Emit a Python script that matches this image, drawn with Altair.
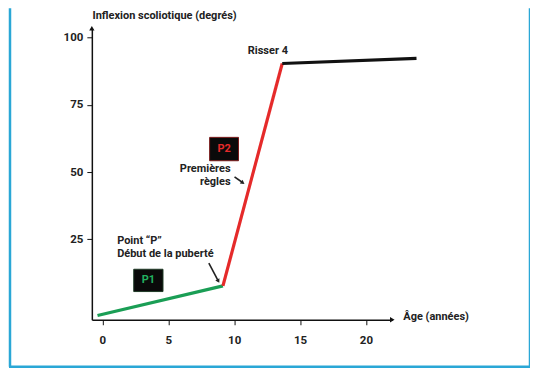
import altair as alt
import pandas as pd

# ---- data ----
seg_names = ["P1", "P1", "P2", "P2", "Fin", "Fin"]
ages = [-0.37, 9.15, 9.15, 13.65, 13.65, 23.84]
inflexions = [-3.4, 7.6, 7.6, 90.4, 90.4, 92.3]
seg_colors = ["#1a9e55", "#e52a2a", "#111111"]

x_ticks = [0, 5, 10, 15, 20]
y_ticks = [25, 50, 75, 100]

# annotation texts (data coordinates)
txt_labels = ["Risser 4", "Premières", "règles", "Point \u201cP\u201d", "Début de la puberté"]
txt_x = [12.56, 9.73, 9.73, 1.12, 1.12]
txt_y = [94.9, 51.1, 46.3, 24.45, 19.5]
txt_align = ["center", "right", "right", "left", "left"]

box_labels = ["P1", "P2"]
box_x1 = [2.38, 8.14]
box_x2 = [4.6, 10.33]
box_y1 = [5.5, 54.2]
box_y2 = [13.8, 62.9]
box_cx = [3.49, 9.24]
box_cy = [9.65, 58.55]
box_text_colors = ["#22b060", "#e52a2a"]
box_edge_colors = ["#1f3a26", "#7a1a1a"]

arr_x1 = [8.08, 10.03]
arr_y1 = [16.05, 48.2]
arr_x2 = [8.80, 10.66]
arr_y2 = [9.4, 46.0]
arr_angle = [61.5, 36.3]

x_title = "Âge (années)"
y_title = "Inflexion scoliotique (degrés)"

X_DOM = [-0.8, 22]
Y_DOM = [-5, 103.5]
FONT = "Roboto"
FS = 11

line_df = pd.DataFrame({"seg": seg_names, "age": ages, "inf": inflexions})
txt_df = pd.DataFrame({"t": txt_labels, "x": txt_x, "y": txt_y, "a": txt_align})
box_df = pd.DataFrame({"t": box_labels, "x1": box_x1, "x2": box_x2, "y1": box_y1,
                       "y2": box_y2, "cx": box_cx, "cy": box_cy,
                       "tc": box_text_colors, "ec": box_edge_colors})
arr_df = pd.DataFrame({"x1": arr_x1, "y1": arr_y1, "x2": arr_x2, "y2": arr_y2, "ang": arr_angle})

xs = alt.Scale(domain=X_DOM, nice=False, zero=False)
ys = alt.Scale(domain=Y_DOM, nice=False, zero=False)

x_axis = alt.Axis(values=x_ticks, grid=False, title=None, labelFont=FONT, labelFontWeight="bold",
                  labelFontSize=11.5, labelColor="#222", tickColor="#111", domainColor="#111",
                  domainWidth=1.5, tickSize=5, labelPadding=10, format="d")
y_axis = alt.Axis(values=y_ticks, grid=False, title=None, labelFont=FONT, labelFontWeight="bold",
                  labelFontSize=11.5, labelColor="#222", tickColor="#111", domainColor="#111",
                  domainWidth=1.5, tickSize=5, labelPadding=4, format="d")

lines = alt.Chart(line_df).mark_line(strokeWidth=3.2, strokeCap="butt").encode(
    x=alt.X("age:Q", scale=xs, axis=x_axis),
    y=alt.Y("inf:Q", scale=ys, axis=y_axis),
    color=alt.Color("seg:N", scale=alt.Scale(domain=["P1", "P2", "Fin"], range=seg_colors), legend=None),
    detail="seg:N",
)

def text_layer(align):
    return alt.Chart(txt_df[txt_df.a == align]).mark_text(
        font=FONT, fontWeight="bold", fontSize=FS, color="#222", align=align, baseline="middle"
    ).encode(x=alt.X("x:Q", scale=xs), y=alt.Y("y:Q", scale=ys), text="t:N")

texts_c = text_layer("center")
texts_r = text_layer("right")
texts_l = text_layer("left")

boxes = alt.Chart(box_df).mark_rect(fill="#0a0a0a", strokeWidth=1).encode(
    x=alt.X("x1:Q", scale=xs), x2="x2", y=alt.Y("y1:Q", scale=ys), y2="y2",
    stroke=alt.Color("ec:N", scale=None))
box_text = alt.Chart(box_df).mark_text(font=FONT, fontWeight="bold", fontSize=11, baseline="middle").encode(
    x=alt.X("cx:Q", scale=xs), y=alt.Y("cy:Q", scale=ys), text="t:N",
    color=alt.Color("tc:N", scale=None))

arrows = alt.Chart(arr_df).mark_rule(color="#222", strokeWidth=1.6).encode(
    x=alt.X("x1:Q", scale=xs), y=alt.Y("y1:Q", scale=ys), x2="x2", y2="y2")
heads = alt.Chart(arr_df).mark_point(shape="triangle-right", filled=True, color="#222", size=22,
                                     opacity=1).encode(
    x=alt.X("x2:Q", scale=xs), y=alt.Y("y2:Q", scale=ys), angle=alt.Angle("ang:Q", scale=None))

ax_df = pd.DataFrame({"x": [X_DOM[1], X_DOM[0]], "y": [Y_DOM[0], Y_DOM[1]],
                      "shape": ["triangle-right", "triangle-up"]})
ax_heads = alt.Chart(ax_df).mark_point(filled=True, color="#111", size=28, opacity=1).encode(
    x=alt.X("x:Q", scale=xs), y=alt.Y("y:Q", scale=ys), shape=alt.Shape("shape:N", scale=None))

title_df = pd.DataFrame({"t": [x_title, y_title], "x": [22.84, -0.75], "y": [-3.8, 107.95]})
titles = alt.Chart(title_df).mark_text(font=FONT, fontWeight="bold", fontSize=FS, color="#222",
                                       align="left", baseline="middle").encode(
    x=alt.X("x:Q", scale=xs), y=alt.Y("y:Q", scale=ys), text="t:N")

# decorative frame (pixel positions relative to plot area)
frame_col = "#2aa7d6"
one = pd.DataFrame({"a": [0]})
frame_l = alt.Chart(one).mark_rule(color=frame_col, strokeWidth=2.5).encode(
    x=alt.value(-82), y=alt.value(-20), y2=alt.value(339))
frame_r = alt.Chart(one).mark_rule(color=frame_col, strokeWidth=2.5).encode(
    x=alt.value(439), y=alt.value(-20), y2=alt.value(339))
frame_b = alt.Chart(one).mark_rule(color=frame_col, strokeWidth=2.5).encode(
    x=alt.value(-83), x2=alt.value(440), y=alt.value(339))

chart = alt.layer(
    frame_l, frame_r, frame_b,
    lines, boxes, box_text, texts_c, texts_r, texts_l, arrows, heads, ax_heads, titles,
).properties(
    width=301, height=292,
    background="white",
    autosize=alt.AutoSizeParams(type="none"),
    padding={"left": 84, "top": 20, "right": 138, "bottom": 54},
).configure_view(stroke=None)

chart.save("out.html", embed_options={"renderer": "svg", "actions": False})
